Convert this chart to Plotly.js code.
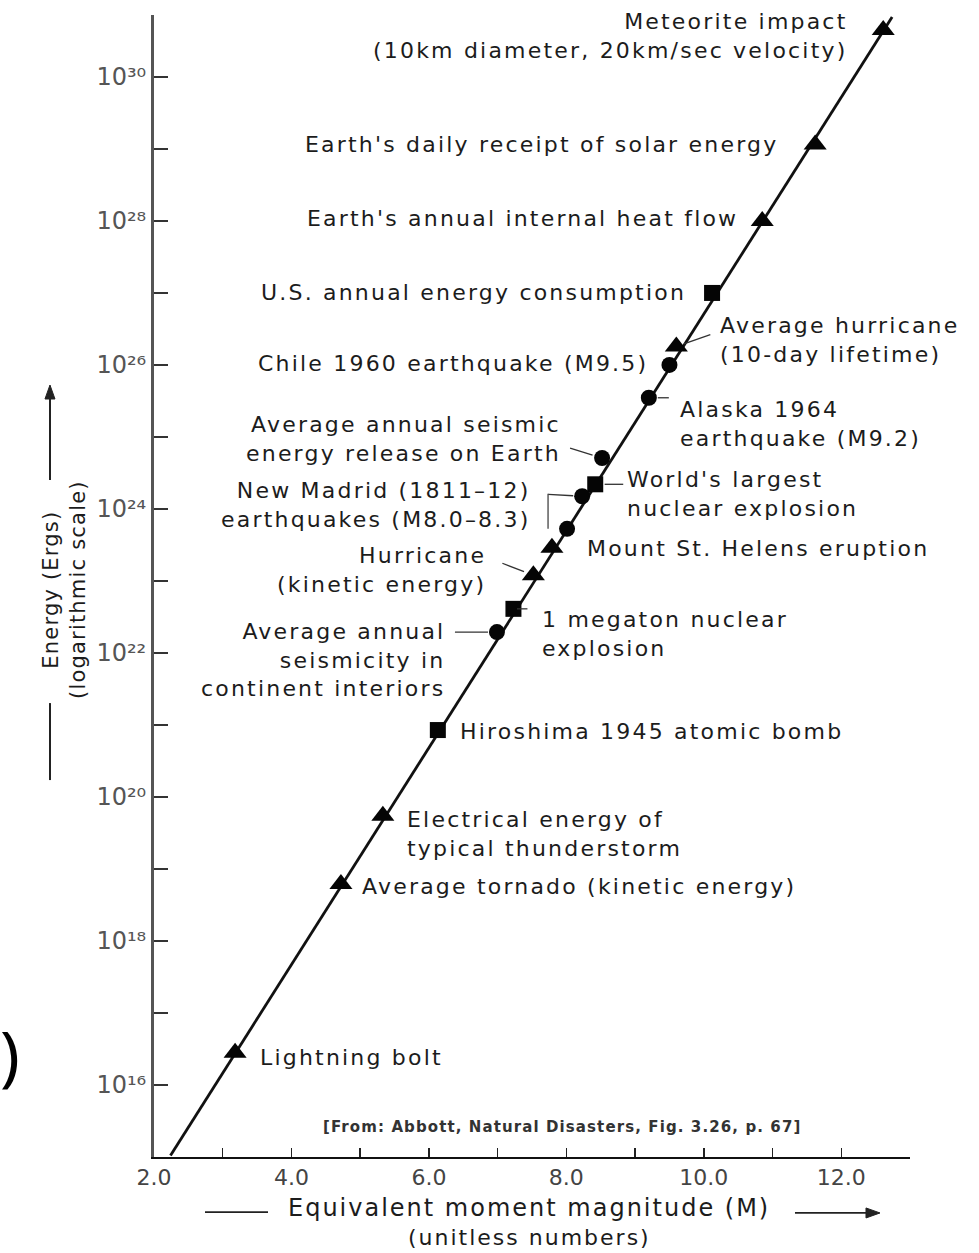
<!DOCTYPE html>
<html>
<head>
<meta charset="utf-8">
<script src="https://cdn.plot.ly/plotly-3.0.1.min.js"></script>
<style>
  html, body { margin: 0; padding: 0; background: #ffffff; }
  #chart { width: 979px; height: 1253px; }
</style>
</head>
<body>
<div id="chart"></div>
<script>
// ---------------- DATA ----------------
const events = [
  "Meteorite impact<br>(10km diameter, 20km/sec velocity)",
  "Earth's daily receipt of solar energy",
  "Earth's annual internal heat flow",
  "U.S. annual energy consumption",
  "Average hurricane<br>(10-day lifetime)",
  "Chile 1960 earthquake (M9.5)",
  "Alaska 1964<br>earthquake (M9.2)",
  "Average annual seismic<br>energy release on Earth",
  "World's largest<br>nuclear explosion",
  "New Madrid (1811\u201312)<br>earthquakes (M8.0\u20138.3)",
  "",
  "Mount St. Helens eruption",
  "Hurricane<br>(kinetic energy)",
  "1 megaton nuclear<br>explosion",
  "Average annual<br>seismicity in<br>continent interiors",
  "Hiroshima 1945 atomic bomb",
  "Electrical energy of<br>typical thunderstorm",
  "Average tornado (kinetic energy)",
  "Lightning bolt"
];
// Equivalent moment magnitude (M)
const magnitude = [12.61, 11.62, 10.85, 10.12, 9.6, 9.5, 9.2, 8.52, 8.42, 8.23, 8.01, 7.79, 7.52, 7.23, 6.99, 6.13, 5.33, 4.72, 3.18];
// Energy (ergs)
const energy = [4.5e30, 1.15e29, 1.0e28, 1.0e27, 1.8e26, 1.0e26, 3.5e25, 5.1e24, 2.2e24, 1.5e24, 5.3e23, 2.9e23, 1.2e23, 4.1e22, 1.95e22, 8.5e20, 5.5e19, 6.2e18, 2.8e16];
// kind of event: natural (triangle), human-made (square), seismic (circle)
const kind = ["natural", "natural", "natural", "human", "natural", "seismic", "seismic", "seismic", "human", "seismic", "seismic", "natural", "natural", "human", "seismic", "human", "natural", "natural", "natural"];

// the straight M-E relation line across the plot
const lineMagnitude = [2.24, 12.74];
const lineEnergy = [1.05e15, 6.8e30];

// axis ticks
const xTickVals = [2, 4, 6, 8, 10, 12];
const xTickText = ["2.0", "4.0", "6.0", "8.0", "10.0", "12.0"];
const xMinorVals = [3, 5, 7, 9, 11, 13];
const yTickVals = [1e16, 1e18, 1e20, 1e22, 1e24, 1e26, 1e28, 1e30];
const yTickText = ["10\u00b9\u2076", "10\u00b9\u2078", "10\u00b2\u2070", "10\u00b2\u00b2", "10\u00b2\u2074", "10\u00b2\u2076", "10\u00b2\u2078", "10\u00b3\u2070"];
const yMinorVals = [1e17, 1e19, 1e21, 1e23, 1e25, 1e27, 1e29];

const xTitle = "Equivalent moment magnitude (M)";
const xSubTitle = "(unitless numbers)";
const yTitle = "Energy (Ergs)<br>(logarithmic scale)";
const sourceNote = "[From: Abbott, Natural Disasters, Fig. 3.26, p. 67]";

// ---------------- STYLE / LAYOUT HELPERS ----------------
const FONT = "DejaVu Sans, Liberation Sans, Arial, sans-serif";
const TXT = "#1c1c1c";
const symbolOf = { natural: "triangle-up", human: "square", seismic: "circle" };
const sizeOf = { natural: 20, human: 16, seismic: 16 };

// widen text a little (the reference lettering is broad)
function spaced(txt, px) {
  return txt.split("<br>").map(l => '<span style="letter-spacing:' + px + 'px">' + l + "</span>").join("<br>");
}

// label placement (pixel offsets from each marker; lead = [tailX, tailY(screen, down+), standoff])
const labelPos = [
  { side: "right", dx: -33, dy: -6 },
  { side: "right", dx: -35, dy: 0 },
  { side: "right", dx: -22, dy: 2 },
  { side: "right", dx: -24, dy: 0 },
  { side: "left", dx: 42, dy: 7, lead: [34, -12, 8] },
  { side: "right", dx: -19, dy: 1 },
  { side: "left", dx: 29, dy: -26, lead: [20, 10, 10] },
  { side: "right", dx: -39, dy: 19, lead: [-32, -10, 10] },
  { side: "left", dx: 30, dy: -10, lead: [28, 10, 10] },
  { side: "right", dx: -49, dy: -9, lead: [-34, -2, 9] },
  null,
  { side: "left", dx: 33, dy: -1 },
  { side: "right", dx: -45, dy: 5, lead: [-31, -12, 10] },
  { side: "left", dx: 27, dy: -25, lead: [14, 19, 6] },
  { side: "right", dx: -50, dy: -28, lead: [-42, 3, 9] },
  { side: "left", dx: 20, dy: -1 },
  { side: "left", dx: 22, dy: -18 },
  { side: "left", dx: 19, dy: -3 },
  { side: "left", dx: 23, dy: -5 }
];

const annotations = [];
const shapes = [];

// pixel-sized line anchored at a data/paper point (offsets in screen px, y down)
function pxLine(xref, yref, xa, ya, sx0, sy0, sx1, sy1, color, width) {
  shapes.push({
    type: "line", xref: xref, yref: yref,
    xsizemode: "pixel", ysizemode: "pixel", xanchor: xa, yanchor: ya,
    x0: sx0, y0: -sy0, x1: sx1, y1: -sy1,
    line: { color: color, width: width }
  });
}
function pxPath(xref, yref, xa, ya, pts, color) {
  const d = pts.map((p, k) => (k ? "L" : "M") + p[0] + "," + (-p[1])).join(" ") + " Z";
  shapes.push({
    type: "path", xref: xref, yref: yref,
    xsizemode: "pixel", ysizemode: "pixel", xanchor: xa, yanchor: ya,
    path: d, fillcolor: color, line: { color: color, width: 1 }
  });
}

events.forEach((txt, i) => {
  const p = labelPos[i];
  if (!p || !txt) return;
  annotations.push({
    x: magnitude[i], y: Math.log10(energy[i]), xref: "x", yref: "y",
    text: spaced(txt, 2.2), showarrow: false,
    xanchor: p.side === "right" ? "right" : "left",
    yanchor: "middle",
    align: p.side === "right" ? "right" : "left",
    xshift: p.dx, yshift: p.dy,
    font: { family: FONT, size: 22, color: TXT }
  });
  if (p.lead) {
    const [tx, ty, so] = p.lead;
    const len = Math.hypot(tx, ty);
    pxLine("x", "y", magnitude[i], energy[i], tx, ty, tx / len * so, ty / len * so, "#333", 1.3);
  }
});
// bracket joining the two New Madrid events
pxLine("x", "y", magnitude[10], energy[10], -19, 1, -19, -35, "#444", 1.3);

// axis titles and decorations
annotations.push(
  { xref: "paper", yref: "paper", x: 0.496, y: -0.0447, text: spaced(xTitle, 2),
    showarrow: false, xanchor: "center", yanchor: "middle", font: { family: FONT, size: 24, color: TXT } },
  { xref: "paper", yref: "paper", x: 0.497, y: -0.0709, text: spaced(xSubTitle, 2),
    showarrow: false, xanchor: "center", yanchor: "middle", font: { family: FONT, size: 22, color: TXT } },
  { xref: "paper", yref: "paper", x: -0.1177, y: 0.4965, text: spaced(yTitle, 1.2),
    showarrow: false, textangle: -90, xanchor: "center", yanchor: "middle",
    font: { family: FONT, size: 21, color: TXT } },
  { xref: "paper", yref: "paper", x: 0.5397, y: 0.0263, text: "<b>" + spaced(sourceNote, 1.1) + "</b>",
    showarrow: false, xanchor: "center", yanchor: "middle", font: { family: FONT, size: 15, color: "#333" } },
  { xref: "paper", yref: "paper", x: -0.1905, y: 0.0911, text: ")",
    showarrow: false, xanchor: "center", yanchor: "middle", font: { family: "Noto Sans, DejaVu Sans, sans-serif", size: 66, color: "#000" } }
);
// x-title rule and arrow
pxLine("paper", "paper", 0.1508, -0.0482, -63, 0, 0, 0, "#222", 1.8);
pxLine("paper", "paper", 0.9603, -0.049, -85, 0, -10, 0, "#222", 1.8);
pxPath("paper", "paper", 0.9603, -0.049, [[0, 0], [-14, -5], [-14, 5]], "#222");
// y-title rule and arrow
pxLine("paper", "paper", -0.1376, 0.676, 0, 95, 0, 10, "#222", 2);
pxPath("paper", "paper", -0.1376, 0.676, [[0, 0], [-5, 14], [5, 14]], "#222");
pxLine("paper", "paper", -0.1376, 0.3975, 0, 0, 0, 77, "#222", 2);

const traces = [
  {
    x: lineMagnitude, y: lineEnergy, mode: "lines", type: "scatter",
    line: { color: "#111", width: 2.8 }, hoverinfo: "skip", cliponaxis: false
  },
  {
    x: magnitude, y: energy, mode: "markers", type: "scatter",
    cliponaxis: false, hoverinfo: "skip",
    marker: {
      symbol: kind.map(k => symbolOf[k]),
      size: kind.map(k => sizeOf[k]),
      color: "#050505", opacity: 1,
      line: { width: 0 }
    }
  }
];

const layout = {
  width: 979, height: 1253,
  margin: { l: 154, r: 69, t: 15, b: 96 },
  paper_bgcolor: "#ffffff", plot_bgcolor: "#ffffff",
  showlegend: false,
  xaxis: {
    range: [2, 13], showgrid: false, zeroline: false,
    showline: true, linecolor: "#111", linewidth: 2,
    tickmode: "array", tickvals: xTickVals, ticktext: xTickText,
    ticks: "inside", ticklen: 9, tickwidth: 1.5, tickcolor: "#222",
    minor: { tickmode: "array", tickvals: xMinorVals, ticks: "inside", ticklen: 9, tickwidth: 1.5, tickcolor: "#222", showgrid: false },
    tickfont: { family: FONT, size: 22, color: "#444" }
  },
  yaxis: {
    type: "log", range: [15, 30.86], showgrid: false, zeroline: false,
    showline: true, linecolor: "#555", linewidth: 3,
    tickmode: "array", tickvals: yTickVals, ticktext: yTickText,
    ticks: "inside", ticklen: 14, tickwidth: 1.5, tickcolor: "#333",
    minor: { tickmode: "array", tickvals: yMinorVals, ticks: "inside", ticklen: 14, tickwidth: 1.5, tickcolor: "#333", showgrid: false },
    tickfont: { family: FONT, size: 24, color: "#555" }
  },
  annotations: annotations,
  shapes: shapes
};

Plotly.newPlot("chart", traces, layout, { displayModeBar: false, staticPlot: true });
</script>
</body>
</html>
